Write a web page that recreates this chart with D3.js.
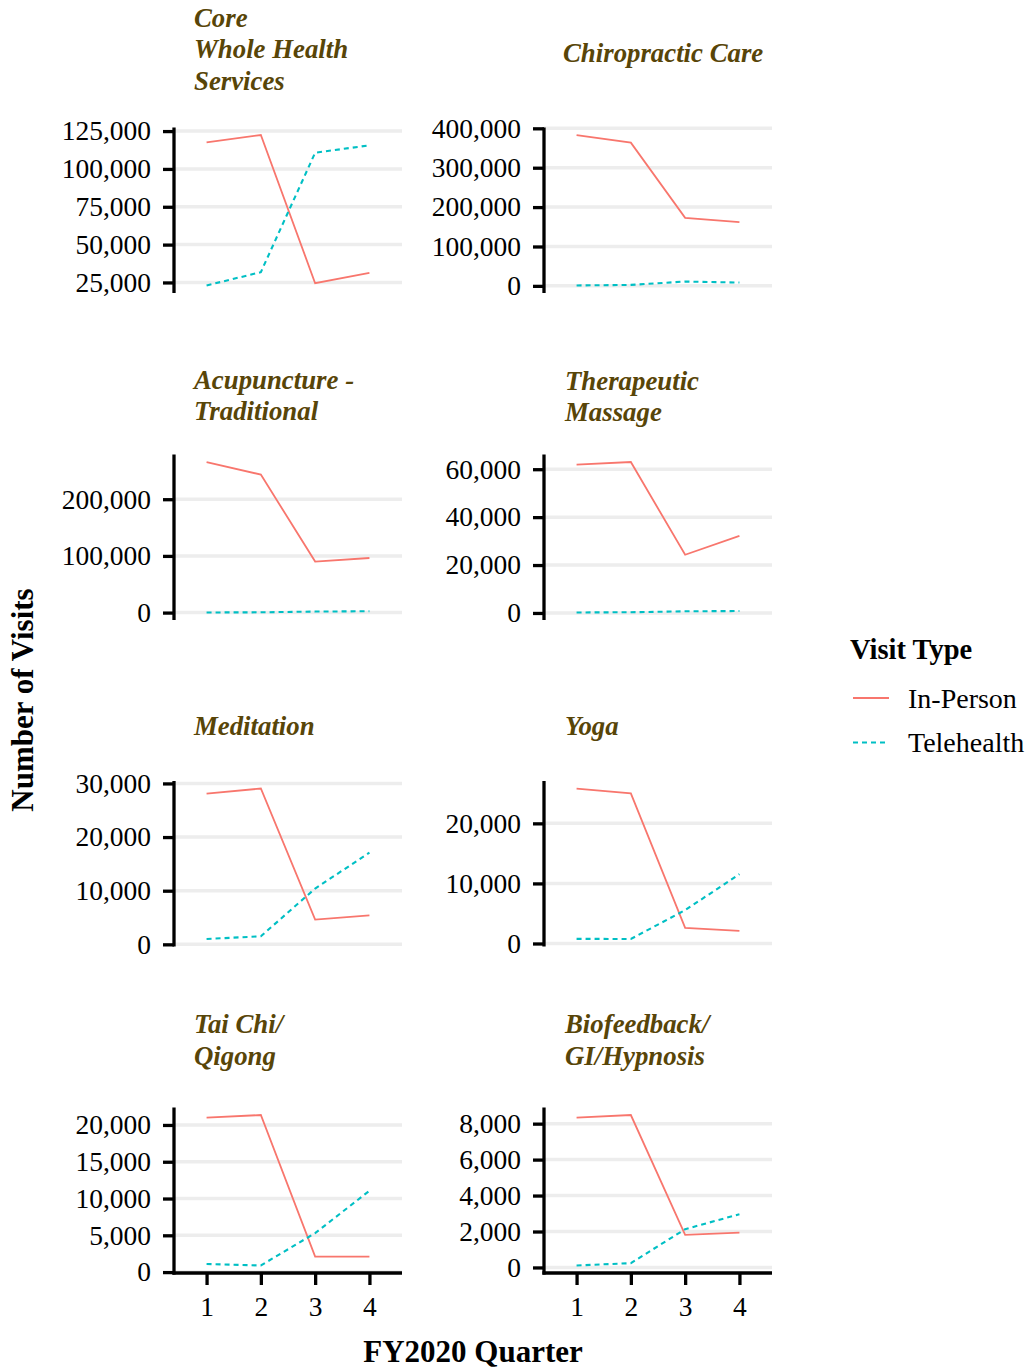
<!DOCTYPE html>
<html>
<head>
<meta charset="utf-8">
<script src="https://cdn.jsdelivr.net/npm/d3@7"></script>
<style>
  html, body { margin: 0; padding: 0; background: #ffffff; }
  svg text { font-family: "Liberation Serif", "Times New Roman", serif; }
</style>
</head>
<body>
<svg id="chart" width="1032" height="1369"></svg>
<script>
// ---------------- data ----------------
const quarters = [1, 2, 3, 4];
const visitTypes = ["In-Person", "Telehealth"];
const serviceTitles = [
  ["Core", "Whole Health", "Services"],
  ["Chiropractic Care"],
  ["Acupuncture -", "Traditional"],
  ["Therapeutic", "Massage"],
  ["Meditation"],
  ["Yoga"],
  ["Tai Chi/", "Qigong"],
  ["Biofeedback/", "GI/Hypnosis"]
];
const inPersonVisits = [
  [117600, 122400, 24500, 31400],
  [383000, 363500, 172600, 161700],
  [265600, 243400, 90000, 96300],
  [61900, 63000, 24300, 32200],
  [28100, 29050, 4600, 5400],
  [25800, 25000, 2600, 2100],
  [21000, 21350, 2100, 2100],
  [8330, 8480, 1810, 1940]
];
const telehealthVisits = [
  [23000, 31800, 110700, 115600],
  [1000, 2500, 11000, 8500],
  [200, 500, 1800, 2400],
  [200, 300, 700, 800],
  [1000, 1500, 10400, 17100],
  [770, 750, 5550, 11550],
  [1100, 900, 5300, 11050],
  [110, 240, 2130, 2960]
];
const yTickValues = [
  [25000, 50000, 75000, 100000, 125000],
  [0, 100000, 200000, 300000, 400000],
  [0, 100000, 200000],
  [0, 20000, 40000, 60000],
  [0, 10000, 20000, 30000],
  [0, 10000, 20000],
  [0, 5000, 10000, 15000, 20000],
  [0, 2000, 4000, 6000, 8000]
];
const xTickValues = [1, 2, 3, 4];

// ---------------- layout ----------------
const colors = { "In-Person": "#F8766D", "Telehealth": "#00BFC4" };
const dashes = { "In-Person": null, "Telehealth": "5,4" };
const widths = { "In-Person": 1.8, "Telehealth": 2.1 };
const colLeft = [174, 544];
const panelW = 228;
const rowTop = [127.5, 454.5, 781, 1107.5];
const panelH = 165.5;
const titleBase = [[26.7, 26.7], [388.5, 389.5], [735, 735], [1033, 1033]];
const titleLineH = 31.5;
const titleColor = "#584508";

const svg = d3.select("#chart");
const fmt = d3.format(",");

serviceTitles.forEach((titleLines, i) => {
  const col = i % 2, row = Math.floor(i / 2);
  const x0 = colLeft[col], y0 = rowTop[row];
  const g = svg.append("g").attr("transform", `translate(${x0},${y0})`);

  const x = d3.scaleLinear().domain([0.4, 4.6]).range([0, panelW]);
  const all = inPersonVisits[i].concat(telehealthVisits[i]);
  const mn = d3.min(all), mx = d3.max(all), pad = (mx - mn) * 0.05;
  const y = d3.scaleLinear().domain([mn - pad, mx + pad]).range([panelH, 0]);

  // gridlines
  g.selectAll("line.grid").data(yTickValues[i]).enter().append("line")
    .attr("x1", 0).attr("x2", panelW)
    .attr("y1", d => y(d)).attr("y2", d => y(d))
    .attr("stroke", "#EDEDED").attr("stroke-width", 3.5);

  // lines
  const line = d3.line().x((d, k) => x(quarters[k])).y(d => y(d));
  [["In-Person", inPersonVisits[i]], ["Telehealth", telehealthVisits[i]]].forEach(([t, vals]) => {
    g.append("path").datum(vals).attr("d", line)
      .attr("fill", "none").attr("stroke", colors[t]).attr("stroke-width", widths[t])
      .attr("stroke-dasharray", dashes[t]);
  });

  // y axis
  const yAxis = d3.axisLeft(y).tickValues(yTickValues[i]).tickFormat(fmt).tickSize(11).tickPadding(12);
  const ya = g.append("g").call(yAxis);
  ya.select(".domain").remove();
  ya.selectAll(".tick line").attr("stroke", "#000").attr("stroke-width", 3.3);
  ya.selectAll(".tick text").attr("font-size", 27.5).attr("fill", "#000")
    .attr("font-family", "Liberation Serif, Times New Roman, serif");
  g.append("line").attr("x1", 0).attr("x2", 0).attr("y1", 0).attr("y2", panelH + (row === 3 ? 1.6 : 0))
    .attr("stroke", "#000").attr("stroke-width", 3.3);

  // x axis on bottom row
  if (row === 3) {
    const xAxis = d3.axisBottom(x).tickValues(xTickValues).tickFormat(d3.format("d")).tickSize(12).tickPadding(11);
    const xa = g.append("g").attr("transform", `translate(0,${panelH})`).call(xAxis);
    xa.select(".domain").remove();
    xa.selectAll(".tick line").attr("stroke", "#000").attr("stroke-width", 3.3);
    xa.selectAll(".tick text").attr("font-size", 27.5).attr("fill", "#000")
      .attr("font-family", "Liberation Serif, Times New Roman, serif");
    g.append("line").attr("x1", -1.6).attr("x2", panelW).attr("y1", panelH).attr("y2", panelH)
      .attr("stroke", "#000").attr("stroke-width", 3.3);
  }

  // title
  const tx = x0 + (col === 0 ? 20 : 21);
  titleLines.forEach((ln, k) => {
    svg.append("text").attr("x", tx).attr("y", titleBase[row][col] + k * titleLineH)
      .attr("font-size", 26.8).attr("font-weight", "bold").attr("font-style", "italic")
      .attr("fill", titleColor).text(ln);
  });
});

// Chiropractic title is single-line placed lower
svg.selectAll("text").filter(function () { return d3.select(this).text() === "Chiropractic Care"; })
  .attr("y", 61.5).attr("x", 563);

// axis titles
svg.append("text").attr("x", 473).attr("y", 1362).attr("text-anchor", "middle")
  .attr("font-size", 31).attr("font-weight", "bold").text("FY2020 Quarter");
svg.append("text").attr("transform", "translate(33,700) rotate(-90)").attr("text-anchor", "middle")
  .attr("font-size", 31).attr("font-weight", "bold").text("Number of Visits");

// legend
const lg = svg.append("g");
lg.append("text").attr("x", 850).attr("y", 659).attr("font-size", 28.5).attr("font-weight", "bold").text("Visit Type");
visitTypes.forEach((t, k) => {
  const cy = 698 + k * 44.5;
  lg.append("line").attr("x1", 853).attr("x2", 889).attr("y1", cy).attr("y2", cy)
    .attr("stroke", colors[t]).attr("stroke-width", widths[t]).attr("stroke-dasharray", dashes[t]);
  lg.append("text").attr("x", 908).attr("y", cy + 9.5).attr("font-size", 28).text(t);
});
</script>
</body>
</html>
